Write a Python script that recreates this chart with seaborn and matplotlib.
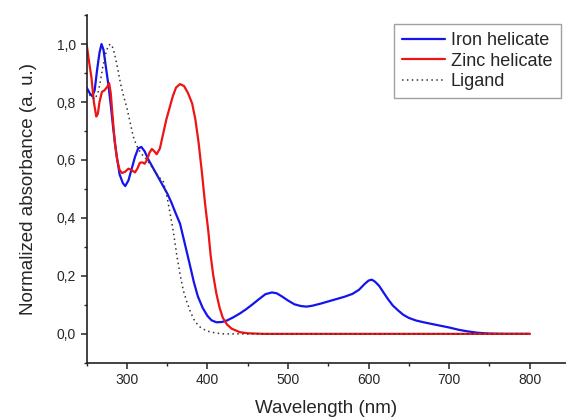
import pandas as pd
import matplotlib.pyplot as plt
import seaborn as sns
import numpy as np

# values
iron_wl = [250, 254, 257, 260, 263, 266, 268.5, 271, 274, 277, 280, 283, 287, 291, 295, 298,
           302, 306, 310, 314, 318, 322, 327, 333, 339, 345, 350, 355, 360, 366, 372, 378,
           383, 388, 394, 400, 405, 411, 418, 424, 432, 440, 448, 456, 464, 472, 480, 486,
           492, 500, 508, 516, 523, 530, 540, 550, 560, 570, 580, 588, 595, 600, 604, 608,
           613, 618, 624, 630, 637, 643, 650, 659, 670, 684, 700, 712, 722, 735, 750, 770, 800]
iron_abs = [0.85, 0.83, 0.82, 0.84, 0.91, 0.97, 1.0, 0.98, 0.92, 0.86, 0.79, 0.71, 0.62, 0.55, 0.52, 0.51,
            0.53, 0.57, 0.61, 0.64, 0.645, 0.63, 0.60, 0.57, 0.54, 0.51, 0.485, 0.455, 0.42, 0.38, 0.31, 0.24,
            0.18, 0.13, 0.09, 0.062, 0.047, 0.04, 0.041, 0.046, 0.057, 0.07, 0.085, 0.102, 0.12, 0.137, 0.143, 0.14,
            0.13, 0.115, 0.102, 0.096, 0.094, 0.097, 0.104, 0.112, 0.12, 0.128, 0.138, 0.152, 0.172, 0.184, 0.187, 0.18,
            0.166, 0.145, 0.12, 0.098, 0.08, 0.066, 0.055, 0.046, 0.039, 0.031, 0.022, 0.014, 0.009, 0.004, 0.001, 0.0, 0.0]

zinc_wl = [250, 253, 256, 259, 262, 264, 266, 269, 272, 275, 278, 280, 282, 285, 288, 291, 294, 298,
           302, 306, 310, 313, 316, 319, 322, 325, 328, 331, 334, 337, 341, 345, 349, 353, 357, 361,
           366, 371, 376, 381, 385, 389, 393, 397, 401, 404, 407, 411, 415, 419, 424, 430, 440, 450, 470, 800]
zinc_abs = [1.0, 0.94, 0.885, 0.80, 0.75, 0.76, 0.80, 0.835, 0.84, 0.85, 0.865, 0.83, 0.76, 0.66, 0.60, 0.565, 0.555, 0.56,
            0.57, 0.565, 0.557, 0.57, 0.59, 0.592, 0.587, 0.60, 0.625, 0.638, 0.63, 0.62, 0.64, 0.69, 0.74, 0.78, 0.82, 0.85,
            0.862, 0.855, 0.83, 0.795, 0.74, 0.66, 0.56, 0.45, 0.356, 0.27, 0.206, 0.14, 0.091, 0.056, 0.033, 0.018, 0.006, 0.002, 0.0, 0.0]

ligand_wl = [250, 255, 260, 264, 267, 270, 274, 277, 280, 283, 286, 289, 292, 296, 300, 304, 308, 312,
             316, 320, 325, 330, 335, 340, 345, 350, 354, 357.5, 362, 366, 370, 374, 379, 384, 390, 399,
             410, 420, 800]
ligand_abs = [0.84, 0.82, 0.81, 0.83, 0.87, 0.92, 0.97, 0.995, 1.0, 0.985, 0.95, 0.91, 0.865, 0.82, 0.78, 0.73, 0.68, 0.65,
              0.63, 0.615, 0.60, 0.58, 0.56, 0.54, 0.528, 0.47, 0.41, 0.356, 0.27, 0.206, 0.15, 0.114, 0.075, 0.045, 0.025, 0.01,
              0.003, 0.0, 0.0]

y_ticks = [0.0, 0.2, 0.4, 0.6, 0.8, 1.0]
y_tick_labels = ['0,0', '0,2', '0,4', '0,6', '0,8', '1,0']
x_ticks = [300, 400, 500, 600, 700, 800]

sns.set_style('ticks')
plt.rcParams['font.family'] = ['Liberation Sans', 'DejaVu Sans']

fig = plt.figure(figsize=(5.66, 4.19), dpi=100)
ax = fig.add_axes([0.153, 0.134, 0.847, 0.830])

sns.lineplot(x=iron_wl, y=iron_abs, ax=ax, color='#1414ee', linewidth=1.6, label='Iron helicate')
sns.lineplot(x=zinc_wl, y=zinc_abs, ax=ax, color='#ee1414', linewidth=1.6, label='Zinc helicate')
sns.lineplot(x=ligand_wl, y=ligand_abs, ax=ax, color='#333333', linewidth=1.1,
             linestyle=(0, (1, 2.2)), label='Ligand')

ax.set_xlim(250, 845)
ax.set_ylim(-0.1, 1.1)
ax.set_xticks(x_ticks)
ax.set_xticks(np.arange(250, 850, 50), minor=True)
ax.set_yticks(y_ticks)
ax.set_yticklabels(y_tick_labels)
ax.set_yticks(np.arange(-0.1, 1.11, 0.1), minor=True)
ax.tick_params(which='major', length=4, width=1.1, labelsize=10, direction='out')
ax.tick_params(which='minor', length=2.5, width=1.0, direction='out')

sns.despine(ax=ax)
for s in ['left', 'bottom']:
    ax.spines[s].set_linewidth(1.2)
    ax.spines[s].set_color('#222222')

ax.set_xlabel('Wavelength (nm)', fontsize=13.5, labelpad=9)
ax.set_ylabel('Normalized absorbance (a. u.)', fontsize=13.5, labelpad=14)

leg = ax.legend(loc='upper left', bbox_to_anchor=(394 / 566, 1 - 24 / 419),
                bbox_transform=fig.transFigure, fontsize=13, frameon=True,
                fancybox=False, handlelength=2.4, handletextpad=0.3,
                borderaxespad=0, borderpad=0.45, labelspacing=0.2)
leg.get_frame().set_edgecolor('#888888')
leg.get_frame().set_linewidth(1.0)

plt.savefig('out.png', dpi=100)
